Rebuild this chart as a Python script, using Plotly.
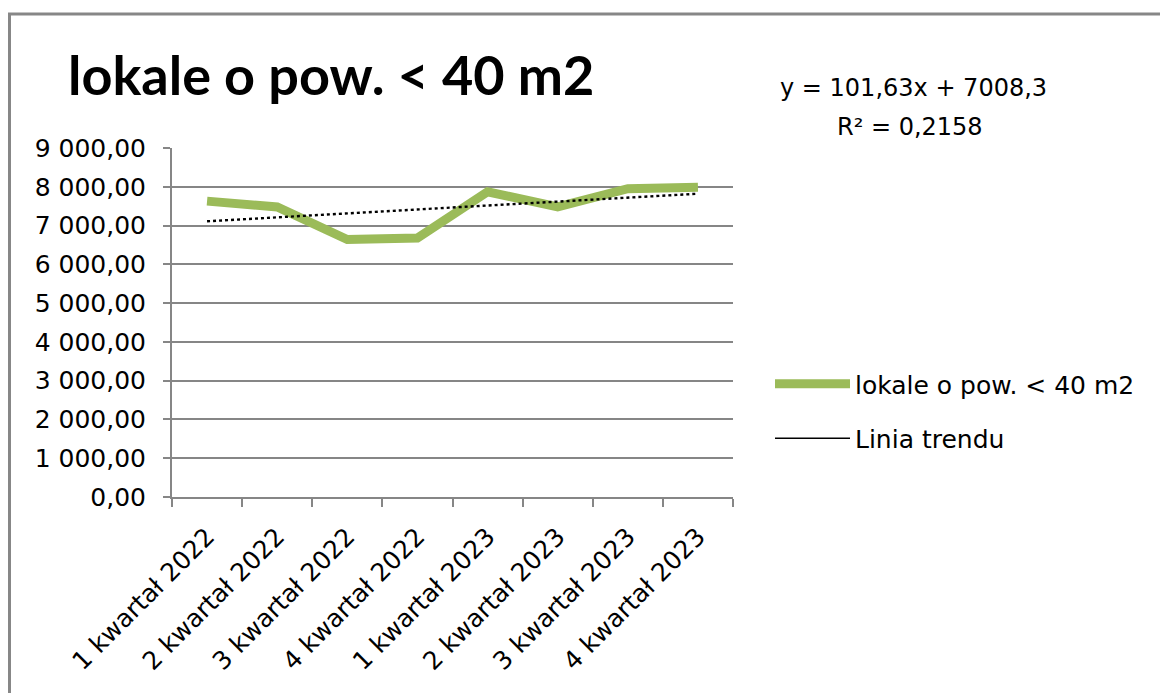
import plotly.graph_objects as go

# Quarterly average prices for flats under 40 m2
categories = [
    "1 kwartał 2022", "2 kwartał 2022", "3 kwartał 2022", "4 kwartał 2022",
    "1 kwartał 2023", "2 kwartał 2023", "3 kwartał 2023", "4 kwartał 2023",
]
values = [7630, 7480, 6640, 6680, 7870, 7480, 7950, 7990]

# Linear trend coefficients (x = 1..8)
trend_slope = 101.63
trend_intercept = 7008.3
trend_r2 = 0.2158

y_ticks = [0, 1000, 2000, 3000, 4000, 5000, 6000, 7000, 8000, 9000]
y_tick_labels = ["0,00", "1 000,00", "2 000,00", "3 000,00", "4 000,00",
                 "5 000,00", "6 000,00", "7 000,00", "8 000,00", "9 000,00"]

series_name = "lokale o pow. < 40 m2"
trend_name = "Linia trendu"

W, H = 1160, 693
PL, PR, PT, PB = 172, 733, 148, 497  # plot area in px

trend_values = [trend_slope * (i + 1) + trend_intercept for i in range(len(categories))]

FONT = "DejaVu Sans"
TITLE_FONT = "Lato"
GREEN = "#9BBB59"
GRID = "#868686"

fig = go.Figure()
fig.add_trace(go.Scatter(
    x=categories, y=values, mode="lines", name=series_name, legendgroup="a",
    line=dict(color=GREEN, width=9),
))
fig.add_trace(go.Scatter(
    x=categories, y=trend_values, mode="lines", name=trend_name,
    line=dict(color="black", width=2.4, dash="dot"), showlegend=False,
))
# legend entry for the trend line (solid sample)
fig.add_trace(go.Scatter(
    x=[None], y=[None], mode="lines", name=trend_name, legendgroup="b",
    line=dict(color="black", width=1.5),
))

def px_x(p):
    return (p - PL) / (PR - PL)

def px_y(p):
    return (PB - p) / (PB - PT)

fig.update_layout(
    width=W, height=H,
    margin=dict(l=PL, r=W - PR, t=PT, b=H - PB),
    paper_bgcolor="white", plot_bgcolor="white",
    font=dict(family=FONT, color="#000000"),
    showlegend=True,
    legend=dict(
        x=px_x(770), y=px_y(361), xanchor="left", yanchor="top",
        font=dict(family=FONT, size=25, color="#000000"),
        itemwidth=75, traceorder="grouped", tracegroupgap=19,
        bgcolor="rgba(0,0,0,0)",
    ),
    xaxis=dict(
        type="category", range=[-0.5, 7.5],
        showgrid=False, showline=True, linecolor=GRID, linewidth=2,
        ticks="outside", tickson="boundaries", ticklen=8, tickcolor=GRID, tickwidth=2,
        tickangle=-45, tickfont=dict(family=FONT, size=25, color="#000000"),
        ticklabelstandoff=13,
        fixedrange=True,
    ),
    yaxis=dict(
        range=[0, 9000], tickvals=y_ticks, ticktext=y_tick_labels,
        showgrid=True, gridcolor=GRID, gridwidth=2,
        showline=True, linecolor=GRID, linewidth=2,
        ticks="outside", ticklen=7, tickcolor=GRID, tickwidth=2,
        tickfont=dict(family=FONT, size=25, color="#000000"),
        ticklabelstandoff=12,
        zeroline=False, fixedrange=True,
    ),
    shapes=[dict(
        type="rect", xref="paper", yref="paper",
        x0=px_x(9.5), x1=px_x(W + 20), y0=px_y(H + 20), y1=px_y(14),
        line=dict(color="#878787", width=3), fillcolor="rgba(0,0,0,0)", layer="below",
    )],
    annotations=[
        dict(text="lokale o pow. < 40 m2", xref="paper", yref="paper",
             x=px_x(66), y=px_y(74), xanchor="left", yanchor="middle",
             showarrow=False, font=dict(family=TITLE_FONT, size=54, color="#000000", weight="bold")),
        dict(text="y = 101,63x + 7008,3", xref="paper", yref="paper",
             x=px_x(913), y=px_y(88), xanchor="center", yanchor="middle",
             showarrow=False, font=dict(family=FONT, size=24, color="#000000")),
        dict(text="R² = " + f"{trend_r2:.4f}".replace(".", ","), xref="paper", yref="paper",
             x=px_x(910), y=px_y(127), xanchor="center", yanchor="middle",
             showarrow=False, font=dict(family=FONT, size=24, color="#000000")),
    ],
)

fig.write_html("out.html")
